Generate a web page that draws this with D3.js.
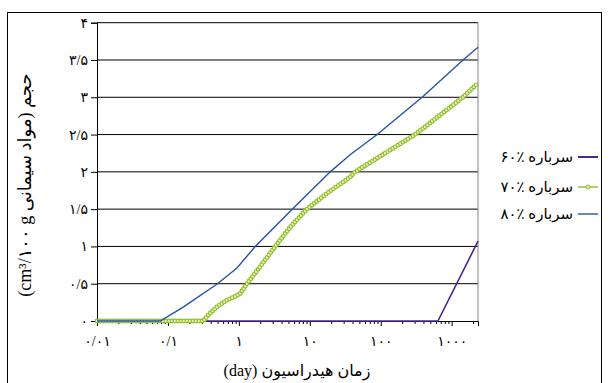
<!DOCTYPE html>
<html><head><meta charset="utf-8">
<script src="https://cdn.jsdelivr.net/npm/d3@7"></script>
<style>
html,body{margin:0;padding:0;background:#fff;}
svg{display:block;}
text{font-family:"Liberation Serif","DejaVu Sans",serif;fill:#000;}
</style></head>
<body>
<svg id="c" width="610" height="383"></svg>
<script>
// ---- data ----
const days60 = [0.01, 640, 2350];
const vol60  = [0, 0, 1.07];
const days70 = [0.01, 0.316, 0.37, 0.49, 0.68, 0.89, 1.05, 1.3, 2.0, 3.26, 5.3, 9.1, 17.4, 37, 43.6, 305, 1445, 2350];
const vol70  = [0, 0, 0.08, 0.19, 0.28, 0.33, 0.37, 0.5, 0.73, 1.0, 1.26, 1.5, 1.71, 1.93, 2.0, 2.5, 3.0, 3.19];
const days80 = [0.01, 0.078, 0.166, 0.5, 0.94, 1.7, 5.65, 19.4, 37, 89, 383, 1445, 2350];
const vol80  = [0, 0, 0.19, 0.5, 0.71, 1.0, 1.5, 2.0, 2.23, 2.5, 3.0, 3.5, 3.67];
const seriesNames = ["۶۰٪ سرباره", "۷۰٪ سرباره", "۸۰٪ سرباره"];
const xTickVals = [0.01, 0.1, 1, 10, 100, 1000];
const xTickLabels = ["۰/۰۱", "۰/۱", "۱", "۱۰", "۱۰۰", "۱۰۰۰"];
const yTickVals = [0, 0.5, 1, 1.5, 2, 2.5, 3, 3.5, 4];
const yTickLabels = ["۰", "۰/۵", "۱", "۱/۵", "۲", "۲/۵", "۳", "۳/۵", "۴"];
const xTitle = "زمان هیدراسیون (day)";
const yTitle = "حجم (مواد سیمانی cm³/۱۰۰ g)";

// ---- layout ----
const svg = d3.select("#c");
const L = 97, R = 478, T = 22.7, B = 321;
const x = d3.scaleLog().domain([0.01, 2350]).range([L, R]);
const y = d3.scaleLinear().domain([0, 4]).range([B, T]);

svg.append("rect").attr("x", 7.5).attr("y", 12.5).attr("width", 594).attr("height", 400)
  .attr("fill", "none").attr("stroke", "#000").attr("stroke-width", 1);

// gridlines
svg.append("g").selectAll("line").data(yTickVals.filter(v => v > 0)).join("line")
  .attr("x1", L).attr("x2", R).attr("y1", d => y(d)).attr("y2", d => y(d))
  .attr("stroke", "#000").attr("stroke-width", 1);
// right border
svg.append("line").attr("x1", R).attr("x2", R).attr("y1", T).attr("y2", B)
  .attr("stroke", "#888").attr("stroke-width", 1);

// y axis
const yAxis = svg.append("g").attr("transform", `translate(${L},0)`)
  .call(d3.axisLeft(y).tickValues(yTickVals).tickFormat((d, i) => yTickLabels[i]).tickSize(6).tickPadding(3));
yAxis.select(".domain").attr("stroke", "#000");
yAxis.selectAll("text").attr("font-size", 14).attr("direction", "ltr");

// x axis minor ticks
const minor = [];
for (let e = -2; e <= 3; e++) for (let m = 2; m <= 9; m++) { const v = m * Math.pow(10, e); if (v <= 2350) minor.push(v); }
svg.append("g").attr("transform", `translate(0,${B})`)
  .call(d3.axisBottom(x).tickValues(minor).tickFormat("").tickSize(3))
  .call(g => g.select(".domain").remove());
const xAxis = svg.append("g").attr("transform", `translate(0,${B})`)
  .call(d3.axisBottom(x).tickValues(xTickVals).tickFormat((d, i) => xTickLabels[i]).tickSize(5).tickPadding(10));
xAxis.select(".domain").attr("stroke", "#000");
xAxis.selectAll("text").attr("font-size", 14).attr("direction", "ltr");

// titles
svg.append("text").attr("x", 297).attr("y", 376).attr("text-anchor", "middle")
  .attr("direction", "rtl").attr("font-size", 16).text(xTitle);
svg.append("text").attr("transform", "translate(31,185) rotate(-90)").attr("text-anchor", "middle")
  .attr("direction", "rtl").attr("font-size", 18).text(yTitle);

// lines
const line = d3.line().x(d => x(d[0])).y(d => y(d[1]));
const s60 = days60.map((d, i) => [d, vol60[i]]);
const s70 = days70.map((d, i) => [d, vol70[i]]);
const s80 = days80.map((d, i) => [d, vol80[i]]);
const cPurple = "#47288e", cBlue = "#2454a6", cGreenLine = "#5f8f14", cGreenFill = "#e6f4ae", cGreenStroke = "#8dbb2c";

svg.append("path").datum(s60).attr("d", line).attr("fill", "none").attr("stroke", cPurple).attr("stroke-width", 1.6);
const p70 = svg.append("path").datum(s70).attr("d", line).attr("fill", "none").attr("stroke", cGreenLine).attr("stroke-width", 1);
// markers along the green series path
const node = p70.node(), len = node.getTotalLength();
const marks = d3.range(0, len, 3).map(l => node.getPointAtLength(l));
svg.append("g").selectAll("circle").data(marks).join("circle")
  .attr("cx", d => d.x).attr("cy", d => d.y).attr("r", 1.9)
  .attr("fill", cGreenFill).attr("stroke", cGreenStroke).attr("stroke-width", 1.1);
svg.append("path").datum(s80).attr("d", line).attr("fill", "none").attr("stroke", cBlue).attr("stroke-width", 1.4);

// legend
const legY = [157, 187, 214];
const legColors = [cPurple, cGreenStroke, cBlue];
const lg = svg.append("g");
seriesNames.forEach((name, i) => {
  lg.append("line").attr("x1", 578).attr("x2", 598).attr("y1", legY[i]).attr("y2", legY[i])
    .attr("stroke", legColors[i]).attr("stroke-width", i === 0 ? 2 : 1.4);
  if (i === 1) lg.append("circle").attr("cx", 588).attr("cy", legY[i]).attr("r", 2)
    .attr("fill", cGreenFill).attr("stroke", cGreenStroke).attr("stroke-width", 1);
  lg.append("text").attr("x", 573).attr("y", legY[i] + 5).attr("text-anchor", "end")
    .attr("direction", "ltr").attr("font-size", 15).text(name);
});
</script>
</body></html>
